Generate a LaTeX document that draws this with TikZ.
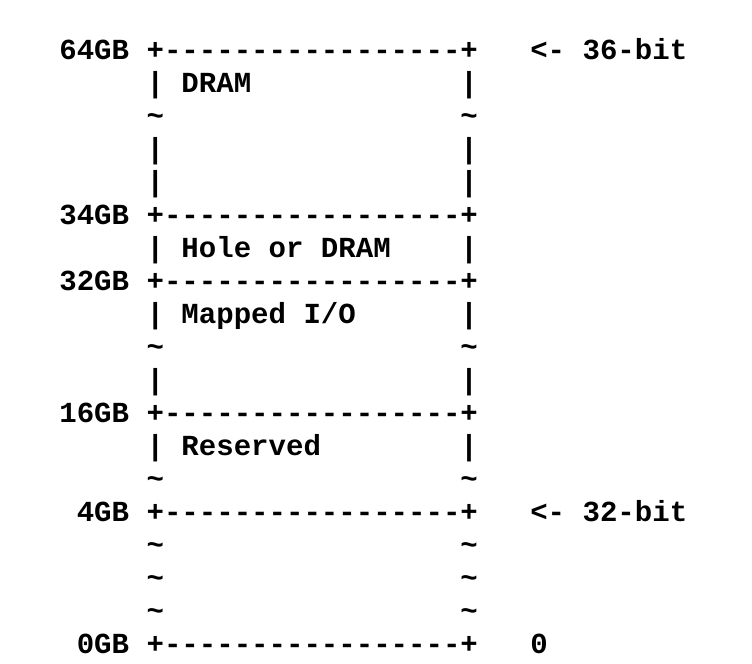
\documentclass[tikz,border=0pt]{standalone}
\usepackage{fontspec}
\setmonofont{Liberation Mono}
\usetikzlibrary{positioning}
\tikzset{mono/.style = {font=\ttfamily\bfseries\fontsize{21.8}{24.75}\selectfont, inner sep=0pt, anchor=base west}}

\begin{document}
\begin{tikzpicture}[x=0.75pt, y=-0.75pt]
	\useasboundingbox (0,0) rectangle (752,663);
	% addresses
	\node[mono] (a64) at (59.1,59.5) {64GB};
	\node[mono] (a34) at (59.1,59.5+33*5) {34GB};
	\node[mono] (a32) at (59.1,59.5+33*7) {32GB};
	\node[mono] (a16) at (59.1,59.5+33*11) {16GB};
	\node[mono] (a4) at (59.1+17.44,59.5+33*14) {4GB};
	\node[mono] (a0) at (59.1+17.44,59.5+33*18) {0GB};
	
	% box
	\foreach \r in {0,5,7,11,14,18}
		\node[mono] (b\r) at (59.1+17.44*5,59.5+33*\r) {+-----------------+};
	\foreach \r in {1,3,4,6,8,10,12} {
		\node[mono] (l\r) at (59.1+17.44*5,59.5+33*\r) {|};
		\node[mono] (r\r) at (59.1+17.44*23,59.5+33*\r) {|};
	}
	\foreach \r in {2,9,13,15,16,17} {
		\node[mono] (l\r) at (59.1+17.44*5,59.5+33*\r) {\textasciitilde};
		\node[mono] (r\r) at (59.1+17.44*23,59.5+33*\r) {\textasciitilde};
	}
	
	% regions
	\node[mono] (dram) at (59.1+17.44*7,59.5+33*1) {DRAM};
	\node[mono] (hole) at (59.1+17.44*7,59.5+33*6) {Hole or DRAM};
	\node[mono] (mmio) at (59.1+17.44*7,59.5+33*8) {Mapped I/O};
	\node[mono] (resv) at (59.1+17.44*7,59.5+33*12) {Reserved};
	
	% notes
	\node[mono] (n36) at (59.1+17.44*27,59.5) {<- 36-bit};
	\node[mono] (n32) at (59.1+17.44*27,59.5+33*14) {<- 32-bit};
	\node[mono] (n0) at (59.1+17.44*27,59.5+33*18) {0};
\end{tikzpicture}
\end{document}
